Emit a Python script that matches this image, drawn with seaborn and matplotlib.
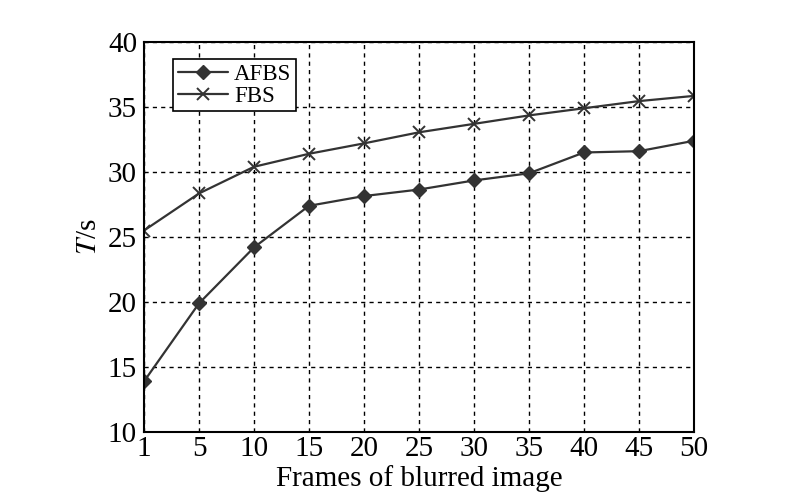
import matplotlib
matplotlib.use("Agg")
import matplotlib.pyplot as plt
import seaborn as sns
import pandas as pd

frames = [1, 5, 10, 15, 20, 25, 30, 35, 40, 45, 50]
afbs = [13.9, 19.9, 24.2, 27.4, 28.15, 28.65, 29.35, 29.9, 31.5, 31.6, 32.4]
fbs = [25.5, 28.35, 30.4, 31.4, 32.2, 33.05, 33.7, 34.35, 34.9, 35.45, 35.85]
y_ticks = [10, 15, 20, 25, 30, 35, 40]

sns.set_theme(style="white")
plt.rcParams['font.family'] = ['Liberation Serif', 'DejaVu Serif']
plt.rcParams['mathtext.fontset'] = 'stix'

pos = list(range(len(frames)))
df_a = pd.DataFrame({"pos": pos, "T": afbs})
df_f = pd.DataFrame({"pos": pos, "T": fbs})

fig = plt.figure(figsize=(8.0, 4.99), dpi=100)
ax = fig.add_axes([0.18, 0.134, 0.6875, 0.782])

line_color = "#333333"
sns.lineplot(data=df_a, x="pos", y="T", color=line_color, marker="D",
             linewidth=1.6, markersize=7, markeredgewidth=1.0,
             markeredgecolor=line_color, label="AFBS", ax=ax)
sns.lineplot(data=df_f, x="pos", y="T", color=line_color, marker="x",
             linewidth=1.6, markersize=8, markeredgewidth=1.4,
             markeredgecolor=line_color, label="FBS", ax=ax)

ax.set_xlim(0, len(frames) - 1)
ax.set_ylim(10, 40)
ax.set_xticks(pos)
ax.set_xticklabels([str(f) for f in frames])
ax.set_yticks(y_ticks)
ax.tick_params(axis="both", labelsize=21, direction="in", length=4,
               color="black", labelcolor="black")
ax.tick_params(axis="x", pad=3)
ax.tick_params(axis="y", pad=5)
for s in ax.spines.values():
    s.set_color("black")
    s.set_linewidth(1.5)
ax.grid(True, color="black", linestyle=(0, (3, 3)), linewidth=1.0)
ax.set_axisbelow(True)

ax.set_xlabel("Frames of blurred image", fontsize=21, labelpad=2, color="black")
ax.set_ylabel("$T$/s", fontsize=21, labelpad=4, color="black")

leg = ax.legend(loc="upper left", bbox_to_anchor=(0.045, 0.968), fontsize=16.5,
                frameon=True, fancybox=False, edgecolor="black",
                handlelength=2.2, borderpad=0.2, labelspacing=0.05,
                handletextpad=0.25, borderaxespad=0.2)
leg.get_frame().set_linewidth(1.2)
leg.get_frame().set_alpha(1)
for t in leg.get_texts():
    t.set_color("black")

fig.savefig("out.png", dpi=100)
